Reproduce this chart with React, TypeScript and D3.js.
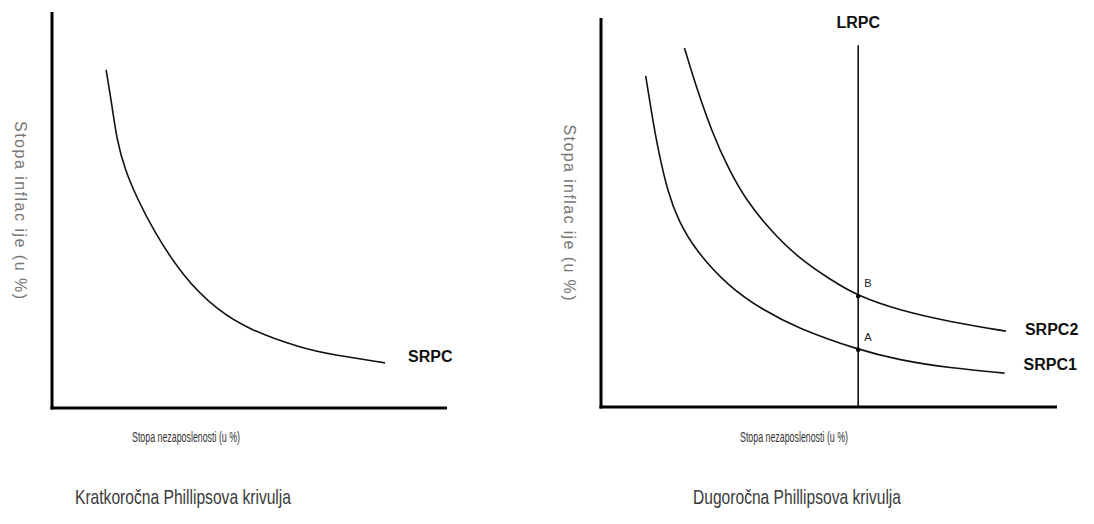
import React from "react";
import * as d3 from "d3";

// Short-run Phillips curve (left panel): [unemployment, inflation]
const srpcShort: [number, number][] = [
  [1.37, 8.54], [1.51, 7.7], [1.64, 6.77], [1.85, 6.01], [2.14, 5.33], [2.56, 4.49],
  [3.32, 3.31], [4.18, 2.47], [5.01, 1.97], [6.28, 1.52], [7.11, 1.34], [8.43, 1.14],
];
// Right panel curves
const srpc1: [number, number][] = [
  [0.98, 8.51], [1.1, 7.63], [1.25, 6.61], [1.47, 5.5], [1.69, 4.81], [2.06, 4.04],
  [2.81, 3.08], [3.56, 2.49], [4.3, 2.03], [5.64, 1.47], [6.53, 1.21], [7.65, 1.0], [8.85, 0.87],
];
const srpc2: [number, number][] = [
  [1.83, 9.23], [2.06, 8.33], [2.44, 7.04], [2.81, 6.09], [3.18, 5.32], [3.71, 4.55],
  [4.3, 3.86], [5.05, 3.26], [5.64, 2.85], [6.53, 2.49], [7.65, 2.19], [8.88, 1.95],
];
const lrpcU = 5.64;
const lrpcTop = 9.3;
const points: { label: string; u: number; p: number }[] = [
  { label: "A", u: 5.64, p: 1.47 },
  { label: "B", u: 5.64, p: 2.85 },
];

const yLabel = "Stopa inflac ije (u %)";
const xLabel = "Stopa nezaposlenosti (u %)";
const titleLeft = "Kratkoročna Phillipsova krivulja";
const titleRight = "Dugoročna Phillipsova krivulja";

const FONT = "Liberation Sans, Arial, sans-serif";

export default function App() {
  // Left panel scales
  const xL = d3.scaleLinear().domain([0, 10]).range([52, 447]);
  const yL = d3.scaleLinear().domain([0, 10]).range([408, 12]);
  // Right panel scales
  const xR = d3.scaleLinear().domain([0, 10]).range([601, 1057]);
  const yR = d3.scaleLinear().domain([0, 10]).range([407, 18]);

  const lineL = d3.line<[number, number]>().x((d) => xL(d[0])).y((d) => yL(d[1])).curve(d3.curveBasis);
  const lineR = d3.line<[number, number]>().x((d) => xR(d[0])).y((d) => yR(d[1])).curve(d3.curveBasis);

  const lastS = srpcShort[srpcShort.length - 1];
  const last1 = srpc1[srpc1.length - 1];
  const last2 = srpc2[srpc2.length - 1];

  return (
    <div style={{ position: "fixed", left: 0, top: 0 }}>
      <svg width={1094} height={524} style={{ display: "block", background: "#fff" }}>
        {/* LEFT PANEL */}
        <line x1={xL(0)} y1={yL(10)} x2={xL(0)} y2={yL(0) + 1.5} stroke="#000" strokeWidth={3} />
        <line x1={xL(0) - 1.5} y1={yL(0)} x2={xL(10)} y2={yL(0)} stroke="#000" strokeWidth={3} />
        <path d={lineL(srpcShort) || ""} fill="none" stroke="#111" strokeWidth={1.6} />
        <text x={xL(lastS[0]) + 23} y={yL(lastS[1]) - 5} fontFamily={FONT} fontWeight="bold" fontSize={16} fill="#111" dominantBaseline="middle">SRPC</text>
        <text transform={`translate(19,${(yL(10) + yL(0)) / 2}) rotate(90)`} textAnchor="middle" dominantBaseline="middle" fontFamily={FONT} fontSize={16} fill="#777" textLength={178} lengthAdjust="spacing">{yLabel}</text>
        <text x={186} y={438} textAnchor="middle" dominantBaseline="middle" fontFamily={FONT} fontSize={14} fill="#333" textLength={108} lengthAdjust="spacingAndGlyphs">{xLabel}</text>
        <text x={183} y={498} textAnchor="middle" dominantBaseline="middle" fontFamily={FONT} fontSize={21} fill="#3a3a3a" textLength={216} lengthAdjust="spacingAndGlyphs">{titleLeft}</text>

        {/* RIGHT PANEL */}
        <line x1={xR(0)} y1={yR(10)} x2={xR(0)} y2={yR(0) + 1.5} stroke="#000" strokeWidth={3} />
        <line x1={xR(0) - 1.5} y1={yR(0)} x2={xR(10)} y2={yR(0)} stroke="#000" strokeWidth={3} />
        <line x1={xR(lrpcU)} y1={yR(lrpcTop)} x2={xR(lrpcU)} y2={yR(0)} stroke="#111" strokeWidth={1.6} />
        <text x={xR(lrpcU)} y={yR(lrpcTop) - 21} textAnchor="middle" dominantBaseline="middle" fontFamily={FONT} fontWeight="bold" fontSize={16} fill="#111">LRPC</text>
        <path d={lineR(srpc1) || ""} fill="none" stroke="#111" strokeWidth={1.6} />
        <path d={lineR(srpc2) || ""} fill="none" stroke="#111" strokeWidth={1.6} />
        {points.map((p) => (
          <g key={p.label}>
            <circle cx={xR(p.u)} cy={yR(p.p)} r={2.2} fill="#000" />
            <text x={xR(p.u) + 6} y={yR(p.p) - 12} dominantBaseline="middle" fontFamily={FONT} fontSize={11} fill="#222">{p.label}</text>
          </g>
        ))}
        <text x={xR(last2[0]) + 19} y={yR(last2[1])} dominantBaseline="middle" fontFamily={FONT} fontWeight="bold" fontSize={16} fill="#111">SRPC2</text>
        <text x={xR(last1[0]) + 19} y={yR(last1[1]) - 7} dominantBaseline="middle" fontFamily={FONT} fontWeight="bold" fontSize={16} fill="#111">SRPC1</text>
        <text transform={`translate(568,${(yR(10) + yR(0)) / 2}) rotate(90)`} textAnchor="middle" dominantBaseline="middle" fontFamily={FONT} fontSize={16} fill="#777" textLength={176} lengthAdjust="spacing">{yLabel}</text>
        <text x={794} y={438} textAnchor="middle" dominantBaseline="middle" fontFamily={FONT} fontSize={14} fill="#333" textLength={108} lengthAdjust="spacingAndGlyphs">{xLabel}</text>
        <text x={797} y={498} textAnchor="middle" dominantBaseline="middle" fontFamily={FONT} fontSize={21} fill="#3a3a3a" textLength={208} lengthAdjust="spacingAndGlyphs">{titleRight}</text>
      </svg>
    </div>
  );
}
